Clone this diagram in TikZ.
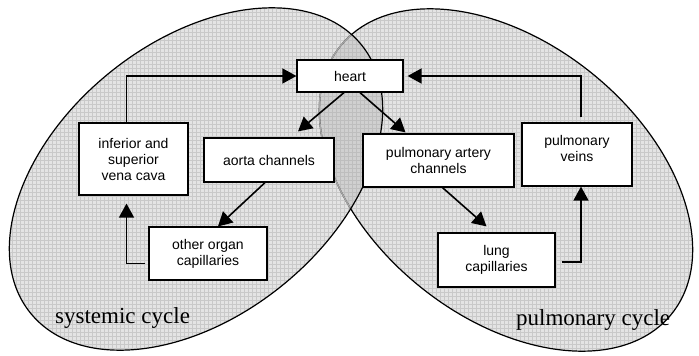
\documentclass[tikz,border=0pt]{standalone}
\usepackage{fontspec}
\setmainfont{Liberation Serif}
\newfontfamily\boxfont{Liberation Sans}
\usetikzlibrary{arrows.meta}
\definecolor{cyclefill}{HTML}{E4E4E4}
\definecolor{cyclegrid}{HTML}{C9C9C9}
\definecolor{bothfill}{HTML}{D0D0D0}
\definecolor{bothgrid}{HTML}{BEBEBE}
\begin{document}
\begin{tikzpicture}[x=1pt,y=-1pt,
    organ/.style={draw,line width=1.2pt,fill=white,align=center,inner sep=0pt,
        font=\boxfont\fontsize{14}{16}\selectfont},
    flow/.style={line width=1.6pt,-{Triangle[length=14pt,width=15pt]}},
    cyclename/.style={anchor=base west,inner sep=0pt,font=\fontsize{23}{26}\selectfont},
    gridlines/.style={line width=0.45pt,step=4pt},
    systemic/.style={rotate around={39:(196,179)}},
    pulmonary/.style={rotate around={-39:(506,180)}}]
\useasboundingbox (0,0) rectangle (699,356);
\fill[cyclefill,systemic] (196,179) ellipse [x radius=213pt,y radius=137pt];
\fill[cyclefill,pulmonary] (506,180) ellipse [x radius=213pt,y radius=137pt];
\begin{scope}
    \clip[systemic] (196,179) ellipse [x radius=213pt,y radius=137pt];
    \draw[cyclegrid,gridlines] (0,0) grid (699,356);
\end{scope}
\begin{scope}
    \clip[pulmonary] (506,180) ellipse [x radius=213pt,y radius=137pt];
    \draw[cyclegrid,gridlines] (0,0) grid (699,356);
\end{scope}
\begin{scope}
    \clip[systemic] (196,179) ellipse [x radius=213pt,y radius=137pt];
    \fill[bothfill,pulmonary] (506,180) ellipse [x radius=213pt,y radius=137pt];
    \clip[pulmonary] (506,180) ellipse [x radius=213pt,y radius=137pt];
    \draw[bothgrid,gridlines] (0,0) grid (699,356);
\end{scope}
\draw[line width=1.2pt,pulmonary] (506,180) ellipse [x radius=213pt,y radius=137pt];
\begin{scope}
    \clip[systemic] (196,179) ellipse [x radius=213pt,y radius=137pt];
    \draw[line width=1.4pt,gray!70,pulmonary] (506,180) ellipse [x radius=213pt,y radius=137pt];
\end{scope}
\draw[line width=1.2pt,systemic] (196,179) ellipse [x radius=213pt,y radius=137pt];

\node[organ,minimum width=106pt,minimum height=32pt] (heart) at (350,76) {heart};
\node[organ,minimum width=109pt,minimum height=72pt] (cava) at (133.5,159) {inferior and\\superior\\vena cava};
\node[organ,minimum width=130pt,minimum height=44pt] (aorta) at (269,160) {aorta channels};
\node[organ,minimum width=118pt,minimum height=53pt] (other) at (208,253.5) {other organ\\capillaries};
\node[organ,minimum width=151pt,minimum height=53pt] (artery) at (438.5,160.5) {pulmonary artery\\channels};
\node[organ,minimum width=110pt,minimum height=63pt] (veins) at (577,154.5) {pulmonary\\veins\\[-4pt]\mbox{}};
\node[organ,minimum width=117pt,minimum height=54pt] (lung) at (496.5,260) {lung\\capillaries};

\draw[flow] ([xshift=-7pt]cava.north) |- (heart.west);
\draw[flow] ([yshift=-10pt,xshift=-3pt]other.west) -| ([xshift=-7pt,yshift=-8pt]cava.south);
\draw[flow] ([xshift=-6pt]heart.south) -- ([xshift=29pt,yshift=6pt]aorta.north);
\draw[flow] ([xshift=10pt]heart.south) -- ([xshift=-33pt,yshift=1pt]artery.north);
\draw[flow] ([xshift=-4pt]aorta.south) -- ([xshift=10pt]other.north);
\draw[flow] ([xshift=4pt]artery.south) -- ([xshift=-10pt,yshift=6pt]lung.north);
\draw[flow] ([xshift=6pt,yshift=-2pt]lung.east) -| ([xshift=4pt]veins.south);
\draw[flow] ([xshift=4pt,yshift=5pt]veins.north) |- ([xshift=4pt]heart.east);

\node[cyclename] (systname) at (55,323) {systemic cycle};
\node[cyclename] (pulmname) at (516,325) {pulmonary cycle};
\end{tikzpicture}
\end{document}
